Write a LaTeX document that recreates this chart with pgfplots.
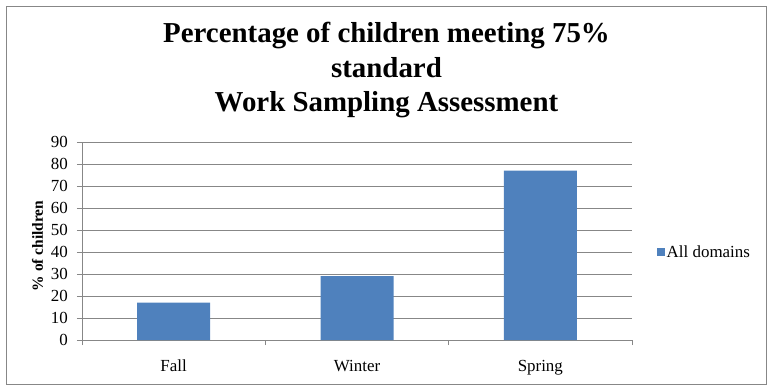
\documentclass[border=0pt]{standalone}
\usepackage{fontspec}
\setmainfont{Liberation Serif}
\usepackage{pgfplots}
\pgfplotsset{compat=1.18}
\definecolor{barblue}{HTML}{4F81BD}
\definecolor{axgray}{HTML}{878787}
\begin{document}
\begin{tikzpicture}
\begin{axis}[
  at={(0,0)}, anchor=south west,
  scale only axis, width=550bp, height=198bp,
  ybar, bar width=73bp,
  xmin=-0.5, xmax=2.5, ymin=0, ymax=90,
  ytick={0,10,...,90},
  xtick={0,1,2}, xticklabels={Fall,Winter,Spring},
  minor xtick={-0.5,0.5,1.5,2.5},
  axis x line=bottom, axis y line=left,
  axis line style={-, draw=axgray, line width=0.9bp},
  tick align=outside,
  major tick length=5bp, minor tick length=5bp,
  major x tick style={draw=none},
  every tick/.style={draw=axgray, line width=0.9bp},
  ymajorgrids, grid style={draw=axgray, line width=0.9bp},
  /pgf/number format/assume math mode=true,
  tick label style={font=\fontsize{17}{20}\selectfont},
  yticklabel style={inner sep=0pt, anchor=east, xshift=-9bp},
  xticklabel style={inner sep=0pt, anchor=base, yshift=-26bp},
  ylabel={\bfseries \% of children},
  ylabel style={font=\fontsize{15.5}{18}\selectfont, at={(axis description cs:-0.0809,0.475)}, anchor=center, rotate=0},
  legend style={draw=none, at={(axis description cs:1,0.444)}, anchor=west, xshift=25bp, inner sep=0pt,
    font=\fontsize{17}{20}\selectfont, nodes={inner sep=1.5bp}},
  legend cell align=left,
  clip=false,
]
\addplot[fill=barblue, draw=none,
  legend image code/.code={\fill[barblue] (0bp,-4bp) rectangle (8bp,4bp);}]
  coordinates {(0,17) (1,29) (2,77)};
\addlegendentry{All domains}
\end{axis}
\path (-82bp,-47bp) rectangle (690bp,340bp);
\draw[axgray, line width=1bp] (-75bp,-44bp) rectangle (684bp,333bp);
\begin{scope}[every node/.style={anchor=base, font=\fontsize{29}{34}\selectfont\bfseries, inner sep=0pt}]
\node at (304.5bp,297bp) {Percentage of children meeting 75\%};
\node at (304.5bp,262bp) {standard};
\node at (304.5bp,228bp) {Work Sampling Assessment};
\end{scope}
\end{tikzpicture}
\end{document}
